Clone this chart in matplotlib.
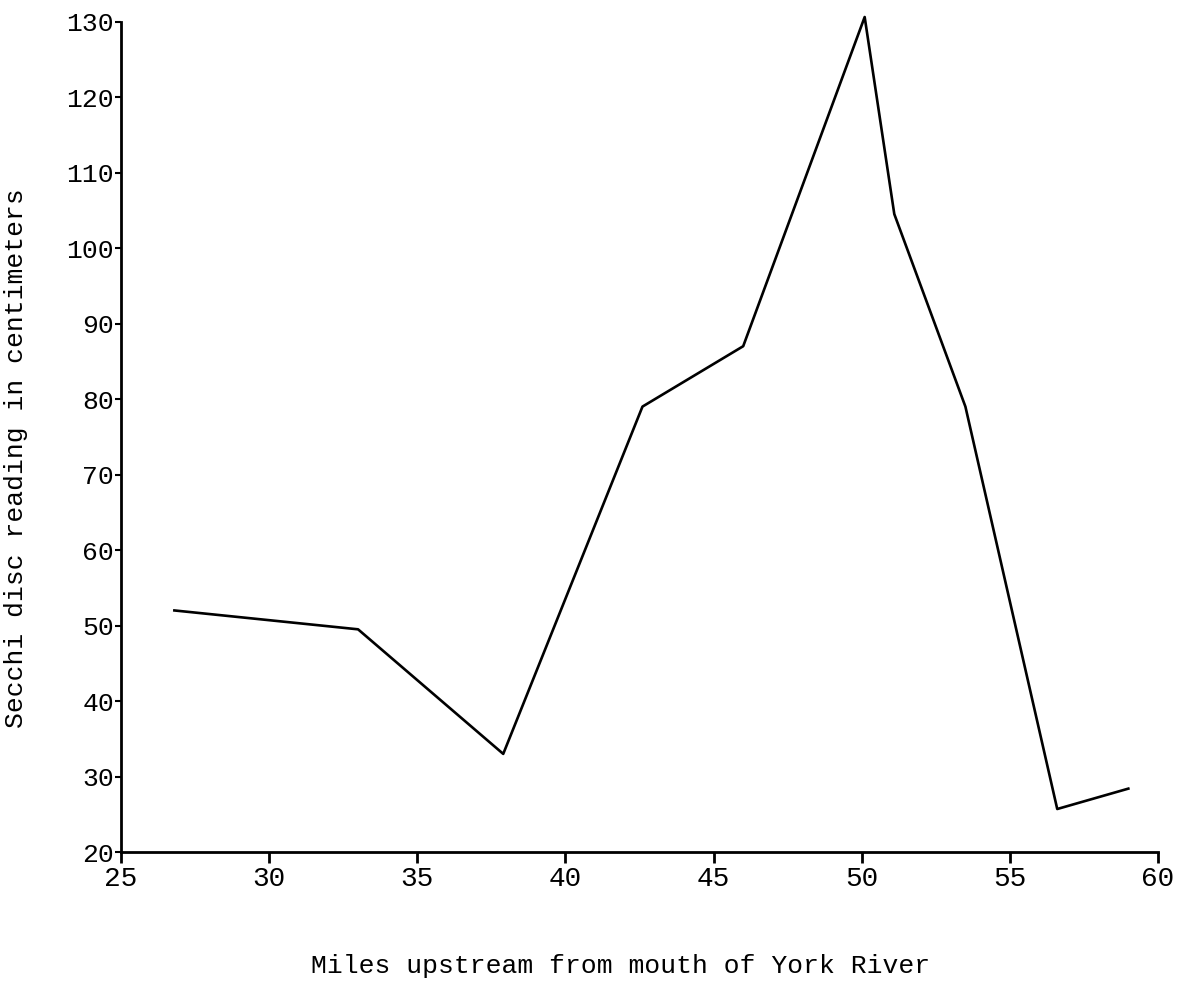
import matplotlib.pyplot as plt

# Secchi disc readings along the York River
miles = [26.8, 33.0, 37.9, 42.6, 46.0, 50.1, 51.1, 53.5, 56.6, 59.0]
secchi_cm = [52.0, 49.5, 33.0, 79.0, 87.0, 130.6, 104.5, 79.0, 25.7, 28.4]

xticks = [25, 30, 35, 40, 45, 50, 55, 60]
yticks = [20, 30, 40, 50, 60, 70, 80, 90, 100, 110, 120, 130]

font = 'Liberation Mono'

fig = plt.figure(figsize=(11.81, 9.84), dpi=100)
ax = fig.add_axes([0.1025, 0.1341, 0.878, 0.8440])

ax.plot(miles, secchi_cm, color='black', lw=1.9, clip_on=False)

ax.set_xlim(25, 60)
ax.set_ylim(20, 130)

ax.spines['top'].set_visible(False)
ax.spines['right'].set_visible(False)
for s in ['left', 'bottom']:
    ax.spines[s].set_linewidth(2.0)
    ax.spines[s].set_color('black')

ax.set_xticks(xticks)
ax.set_yticks(yticks)
ax.set_xticklabels([str(v) for v in xticks], fontfamily=font, fontsize=20)
ax.set_yticklabels([str(v) for v in yticks], fontfamily=font, fontsize=19)
ax.tick_params(axis='x', direction='out', length=8, width=2, pad=2)
ax.tick_params(axis='y', direction='out', length=4, width=1.5, pad=1)

ax.set_xlabel('Miles upstream from mouth of York River', fontfamily=font, fontsize=19)
ax.xaxis.set_label_coords(0.482, -0.123)
ax.set_ylabel('Secchi disc reading in centimeters', fontfamily=font, fontsize=19)
ax.yaxis.set_label_coords(-0.09, 0.474)

fig.savefig('out.png', dpi=100, facecolor='white')
